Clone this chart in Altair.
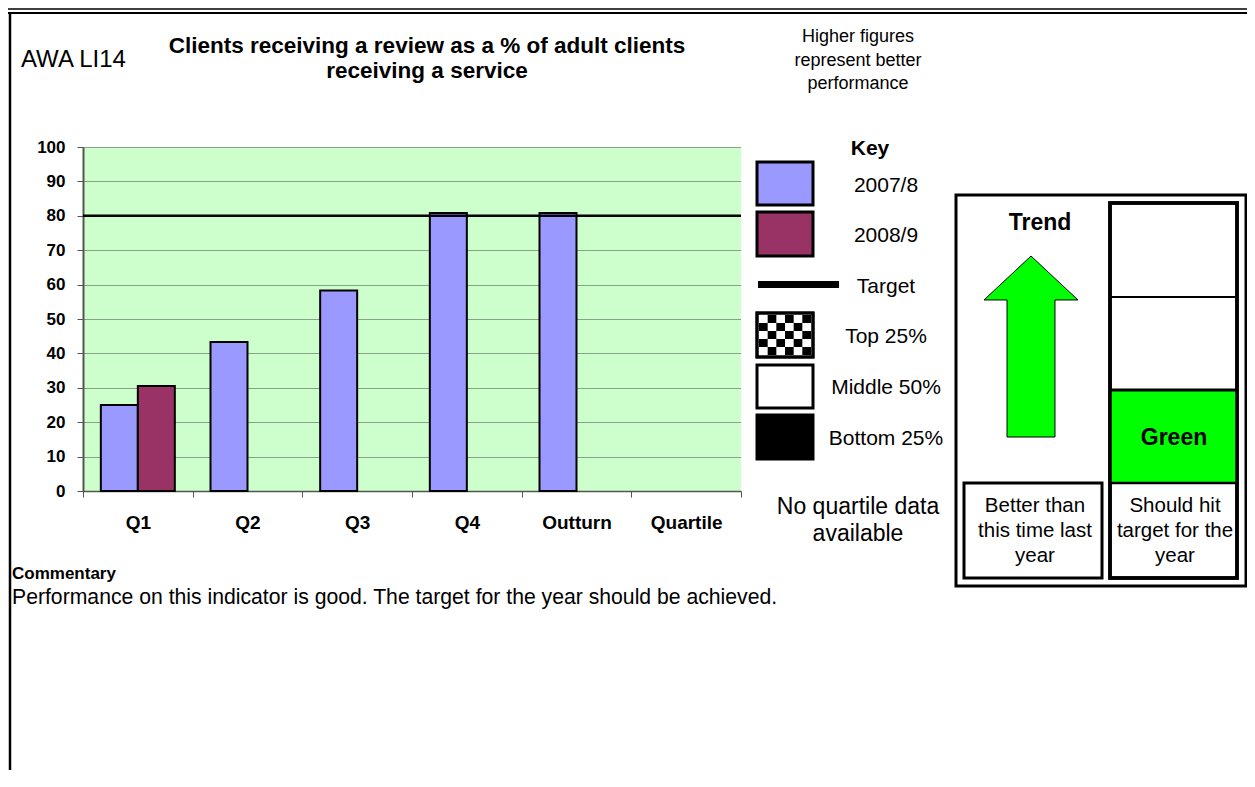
import altair as alt
import pandas as pd

# ---------------- data ----------------
quarters = ["Q1", "Q2", "Q3", "Q4", "Outturn", "Quartile"]
series = ["2007/8", "2008/9"]
values_2007_8 = [25.0, 43.3, 58.3, 80.8, 80.8, None]
values_2008_9 = [30.5, None, None, None, None, None]
target_value = 80
y_ticks = [0, 10, 20, 30, 40, 50, 60, 70, 80, 90, 100]
series_colors = ["#9999FF", "#993366"]

indicator_code = "AWA LI14"
title_lines = ["Clients receiving a review as a % of adult clients", "receiving a service"]
direction_lines = ["Higher figures", "represent better", "performance"]
key_title = "Key"
key_labels = ["2007/8", "2008/9", "Target", "Top 25%", "Middle 50%", "Bottom 25%"]
quartile_note = ["No quartile data", "available"]
trend_title = "Trend"
trend_caption = ["Better than", "this time last", "year"]
status_label = "Green"
status_caption = ["Should hit", "target for the", "year"]
commentary_title = "Commentary"
commentary_text = "Performance on this indicator is good. The target for the year should be achieved."

# ---------------- layout ----------------
FONT = "Liberation Sans"
OX, OY = 83, 147          # page position of plot origin
W, H = 658, 344
PAD_L, PAD_T = OX - 8, OY - 8
TOTAL_W, TOTAL_H = 1239, 762

rows = []
for q, v in zip(quarters, values_2007_8):
    if v is not None:
        rows.append({"quarter": q, "series": series[0], "value": v})
for q, v in zip(quarters, values_2008_9):
    if v is not None:
        rows.append({"quarter": q, "series": series[1], "value": v})
df = pd.DataFrame(rows)

one = alt.Data(values=[{"k": 0}])


def px(x):
    return x - OX


def py(y):
    return y - OY


def text(s, x, y, size, bold=False, align="center"):
    return alt.Chart(one).mark_text(
        text=s, fontSize=size, fontWeight="bold" if bold else "normal",
        align=align, baseline="alphabetic", font=FONT, color="black"
    ).encode(x=alt.value(px(x)), y=alt.value(py(y)))


def box(x1, y1, x2, y2, fill, sw=3.0):
    kw = dict(fill=fill)
    if sw > 0:
        kw.update(stroke="black", strokeWidth=sw)
    return alt.Chart(one).mark_rect(**kw).encode(
        x=alt.value(px(x1)), x2=alt.value(px(x2)),
        y=alt.value(py(y1)), y2=alt.value(py(y2)))


def hline(x1, x2, y, sw):
    return alt.Chart(one).mark_rule(color="black", strokeWidth=sw).encode(
        x=alt.value(px(x1)), x2=alt.value(px(x2)), y=alt.value(py(y)))


def vline(x, y1, y2, sw):
    return alt.Chart(one).mark_rule(color="black", strokeWidth=sw).encode(
        x=alt.value(px(x)), y=alt.value(py(y1)), y2=alt.value(py(y2)))


def shape(path, cx, cy, extent, fill, sw):
    kw = dict(shape=path, filled=True, fill=fill, opacity=1)
    if sw > 0:
        kw.update(stroke="black", strokeWidth=sw)
    else:
        kw.update(strokeWidth=0)
    return alt.Chart(one).mark_point(**kw).encode(
        x=alt.value(px(cx)), y=alt.value(py(cy)), size=alt.value(extent * extent))


# ---------------- bar chart ----------------
y_scale = alt.Scale(domain=[0, 100], nice=False)
y_axis = alt.Axis(title=None, values=y_ticks, labelFontWeight="bold", labelFontSize=17,
                  labelColor="black", labelFont=FONT, tickSize=6, tickColor="#555555",
                  domainColor="#555555", domainWidth=2, labelPadding=12,
                  grid=True, gridColor="#444444", gridDash=[1, 1], gridWidth=1)

bars = alt.Chart(df).mark_bar(stroke="black", strokeWidth=2).encode(
    x=alt.X("quarter:N", sort=quarters,
            scale=alt.Scale(domain=quarters, paddingInner=0, paddingOuter=0),
            axis=alt.Axis(title=None, labelAngle=0, labelFontWeight="bold", labelFontSize=19,
                          labelColor="black", labelFont=FONT, tickBand="extent", tickSize=6,
                          tickColor="#555555", domainColor="#555555", domainWidth=1.5,
                          labelPadding=16, grid=False)),
    xOffset=alt.XOffset("series:N", scale=alt.Scale(domain=series, paddingInner=0, paddingOuter=0.482)),
    y=alt.Y("value:Q", scale=y_scale, axis=y_axis),
    color=alt.Color("series:N", scale=alt.Scale(domain=series, range=series_colors), legend=None),
)

target_rule = alt.Chart(pd.DataFrame({"value": [target_value]})).mark_rule(
    color="black", strokeWidth=2.5).encode(y=alt.Y("value:Q", scale=y_scale, axis=y_axis))

layers = [bars, target_rule]

# page borders
layers.append(hline(8, 1247, 9, 1.5))
layers.append(hline(8, 1247, 13, 2))
layers.append(vline(10, 14, 770, 2.5))

# header texts
layers.append(text(indicator_code, 21, 67, 24, align="left"))
layers.append(text(title_lines[0], 427, 53, 22.5, bold=True))
layers.append(text(title_lines[1], 427, 78, 22.5, bold=True))
for s, yb in zip(direction_lines, [42, 66, 89]):
    layers.append(text(s, 858, yb, 18))
layers.append(text(key_title, 870, 155, 21, bold=True))

# key
layers.append(box(757, 162, 813, 205, series_colors[0]))
layers.append(box(757, 212, 813, 256, series_colors[1]))
layers.append(hline(758, 839, 284.5, 7))
layers.append(box(757, 313, 813, 357, "white"))
cells = []
cw, ch = 52 / 6, 40 / 5
for r in range(5):
    for c in range(6):
        if (r + c) % 2 == 1:
            x0 = -26 + c * cw
            y0 = -20 + r * ch
            cells.append(f"M{x0/28:.4f},{y0/28:.4f}h{cw/28:.4f}v{ch/28:.4f}h{-cw/28:.4f}Z")
layers.append(shape("".join(cells), 785, 335, 56, "black", 0))
layers.append(box(757, 313, 813, 357, "transparent"))
layers.append(box(757, 365, 813, 408, "white"))
layers.append(box(757, 415, 813, 459, "black"))
for s, yb in zip(key_labels, [192, 242, 293, 343, 394, 445]):
    layers.append(text(s, 886, yb, 21))
layers.append(text(quartile_note[0], 858, 514, 23))
layers.append(text(quartile_note[1], 858, 541, 23))

# trend panel
layers.append(box(956, 195, 1246, 586, "white", 3))
layers.append(box(964, 483, 1102, 578, "white", 3))
layers.append(box(1110, 203, 1237, 578, "white", 3.5))
layers.append(box(1110, 390, 1237, 483, "#00FF00", 0))
layers.append(hline(1110, 1237, 297, 2))
layers.append(hline(1110, 1237, 390, 3))
layers.append(hline(1110, 1237, 483, 2.5))
layers.append(box(1110, 203, 1237, 578, "transparent", 3.5))
arrow = ("M0,-1L0.519,-0.514L0.265,-0.514L0.265,1L-0.265,1L-0.265,-0.514L-0.519,-0.514Z")
layers.append(shape(arrow, 1031, 346.5, 181, "#00FF00", 1))
layers.append(text(trend_title, 1040, 230, 23, bold=True))
layers.append(text(status_label, 1174, 445, 23, bold=True))
for s, yb in zip(trend_caption, [512, 537, 562]):
    layers.append(text(s, 1035, yb, 20.5))
for s, yb in zip(status_caption, [512, 537, 562]):
    layers.append(text(s, 1175, yb, 20.5))

# commentary
layers.append(text(commentary_title, 12, 579, 17, bold=True, align="left"))
layers.append(text(commentary_text, 12, 604, 21.2, align="left"))

chart = alt.layer(*layers).properties(
    width=W, height=H,
    autosize=alt.AutoSizeParams(type="none"),
    padding={"left": PAD_L, "top": PAD_T, "right": TOTAL_W - PAD_L - W, "bottom": TOTAL_H - PAD_T - H},
    background="white",
).configure(font=FONT).configure_view(fill="#CCFFCC", strokeWidth=0)

chart.save("out.html", embed_options={"renderer": "svg", "actions": False})
